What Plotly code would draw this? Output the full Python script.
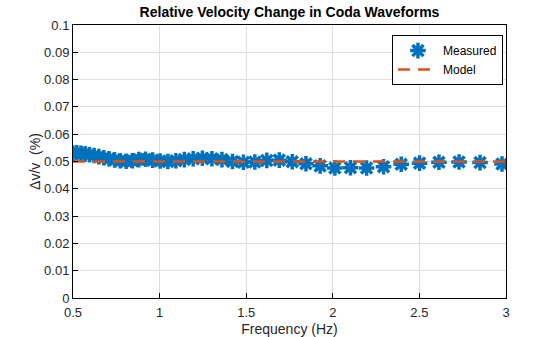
import plotly.graph_objects as go

# Frequencies (Hz) of the coda-window measurements
freq = [0.500, 0.522, 0.546, 0.570, 0.595, 0.622, 0.649, 0.678, 0.708, 0.740,
        0.773, 0.807, 0.843, 0.880, 0.919, 0.960, 1.003, 1.048, 1.094, 1.143,
        1.194, 1.247, 1.302, 1.360, 1.421, 1.484, 1.550, 1.619, 1.691, 1.766,
        1.845, 1.927, 2.012, 2.102, 2.195, 2.293, 2.395, 2.501, 2.613, 2.729,
        2.850, 2.977]

# Measured relative velocity change (%)
dvv_measured = [0.0530, 0.0532, 0.0530, 0.0528, 0.0525, 0.0522, 0.0518, 0.0514, 0.0510, 0.0506,
                0.0503, 0.0501, 0.0503, 0.0507, 0.0508, 0.0505, 0.0502, 0.0500, 0.0503, 0.0507,
                0.0510, 0.0512, 0.0510, 0.0507, 0.0500, 0.0497, 0.0498, 0.0504, 0.0505, 0.0499,
                0.0492, 0.0484, 0.0476, 0.0477, 0.0476, 0.0481, 0.0490, 0.0494, 0.0497, 0.0498,
                0.0496, 0.0491]

# Constant model value
model_freq = [0.5, 3.0]
model_dvv = [0.05, 0.05]

x_ticks = [0.5, 1, 1.5, 2, 2.5, 3]
x_ticktext = ["0.5", "1", "1.5", "2", "2.5", "3"]
y_ticks = [0, 0.01, 0.02, 0.03, 0.04, 0.05, 0.06, 0.07, 0.08, 0.09, 0.1]
y_ticktext = ["0", "0.01", "0.02", "0.03", "0.04", "0.05", "0.06", "0.07", "0.08", "0.09", "0.1"]

FONT = "Liberation Sans, Arial, Helvetica, sans-serif"
BLUE = "#0072BD"
ORANGE = "#D95319"

fig = go.Figure()

fig.add_trace(go.Scatter(
    x=freq, y=dvv_measured, mode="markers", name="Measured",
    marker=dict(symbol="asterisk-open", size=13, color=BLUE,
                line=dict(color=BLUE, width=3.5)),
))

fig.add_trace(go.Scatter(
    x=model_freq, y=model_dvv, mode="lines", name="Model",
    line=dict(color=ORANGE, width=2.5, dash="12px,8px"),
))

axis_common = dict(
    showline=True, linecolor="black", linewidth=1, mirror=True,
    ticks="inside", ticklen=5, tickcolor="black", tickwidth=1,
    showgrid=True, gridcolor="#dfdfdf", gridwidth=1,
    zeroline=False, automargin=False,
    tickfont=dict(family=FONT, size=13, color="#262626"),
)

fig.update_xaxes(
    range=[0.5, 3], tickvals=x_ticks, ticktext=x_ticktext,
    ticklabelstandoff=2,
    title=dict(text="Frequency (Hz)", font=dict(family=FONT, size=14, color="#262626")),
    **axis_common,
)
fig.update_yaxes(
    range=[0, 0.1], tickvals=y_ticks, ticktext=y_ticktext,
    title=dict(text="\u0394v/v  (%)", font=dict(family=FONT, size=14, color="#262626"), standoff=0),
    **axis_common,
)

fig.update_layout(
    width=560, height=337,
    margin=dict(l=73, r=54, t=25, b=39),
    paper_bgcolor="white", plot_bgcolor="white",
    title=dict(text="<b>Relative Velocity Change in Coda Waveforms</b>",
               font=dict(family=FONT, size=14, color="black"),
               x=(73 + 506) / 2 / 560, xanchor="center", y=0.965, yanchor="middle"),
    legend=dict(x=0.993, y=0.963, xanchor="right", yanchor="top",
                bgcolor="white", bordercolor="black", borderwidth=1,
                font=dict(family=FONT, size=12, color="black"),
                tracegroupgap=0, itemwidth=40),
    showlegend=True,
)

fig.write_html("out.html")
